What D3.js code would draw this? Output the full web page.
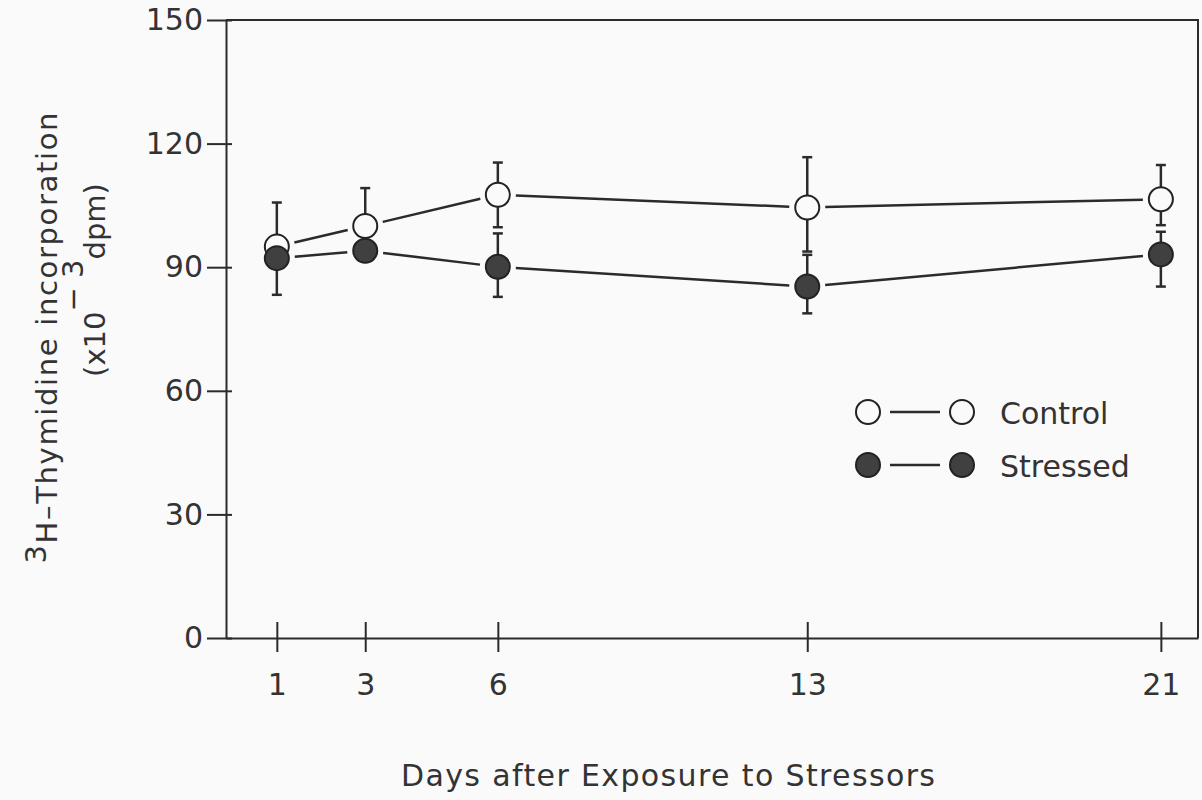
<!DOCTYPE html>
<html>
<head>
<meta charset="utf-8">
<script src="https://cdn.jsdelivr.net/npm/d3@7"></script>
<style>
  html, body { margin: 0; padding: 0; background: #fafafa; }
  svg { display: block; }
  text { font-family: "DejaVu Sans", sans-serif; fill: #333; }
</style>
</head>
<body>
<svg id="chart" width="1202" height="800"></svg>
<script>
// ---- data ----
const days = [1, 3, 6, 13, 21];
const controlMean = [95.0, 100.0, 107.6, 104.5, 106.5];
const controlErrUp = [10.7, 9.2, 7.8, 12.2, 8.3];
const controlErrDown = [null, null, 7.9, 10.7, 6.3];   // null: hidden behind the other marker
const stressedMean = [92.2, 94.0, 90.1, 85.3, 93.1];
const stressedErrUp = [null, null, 8.1, 7.7, 5.5];
const stressedErrDown = [8.9, null, 7.3, 6.5, 7.8];
const yTicks = [0, 30, 60, 90, 120, 150];
const seriesNames = ["Control", "Stressed"];
const xTitle = "Days after Exposure to Stressors";

// ---- layout ----
const svg = d3.select("#chart");
const plotL = 226, plotR = 1198, plotT = 20, plotB = 638;
const ink = "#2b2b2b";
const x = d3.scaleLinear().domain([-0.15, 21.84]).range([plotL, plotR]);
const y = d3.scaleLinear().domain([0, 150]).range([plotB, plotT]);
const R = 13;

// frame (top & right)
svg.append("path")
  .attr("d", `M${plotL},${plotT} H${plotR} V${plotB}`)
  .attr("fill", "none").attr("stroke", ink).attr("stroke-width", 2);

// y axis
const gy = svg.append("g").attr("transform", `translate(${plotL},0)`)
  .call(d3.axisLeft(y).tickValues(yTicks).tickSize(0).tickPadding(23));
gy.select(".domain").attr("stroke", ink).attr("stroke-width", 2);
gy.selectAll(".tick line").attr("x1", -19).attr("x2", 6).attr("stroke", ink).attr("stroke-width", 2);
gy.selectAll(".tick text").style("font-size", "30px").attr("fill", "#333")
  .attr("font-family", "DejaVu Sans");

// x axis
const gx = svg.append("g").attr("transform", `translate(0,${plotB})`)
  .call(d3.axisBottom(x).tickValues(days).tickSize(0).tickPadding(36));
gx.select(".domain").attr("stroke", ink).attr("stroke-width", 2);
gx.selectAll(".tick line").attr("y1", -16).attr("y2", 14).attr("stroke", ink).attr("stroke-width", 2);
gx.selectAll(".tick text").style("font-size", "30px").attr("fill", "#333")
  .attr("font-family", "DejaVu Sans");

// x title
svg.append("text").attr("x", 668).attr("y", 786).attr("text-anchor", "middle")
  .style("font-size", "30px").attr("textLength", 534).attr("lengthAdjust", "spacing")
  .text(xTitle);

// y title (two rotated lines)
const yt1 = svg.append("text").attr("transform", "translate(57,338) rotate(-90)")
  .attr("text-anchor", "middle").style("font-size", "29px")
  .attr("textLength", 451).attr("lengthAdjust", "spacing");
yt1.append("tspan").attr("baseline-shift", "11").text("3");
yt1.append("tspan").attr("baseline-shift", "0").text("H\u2013Thymidine incorporation");
const yt2 = svg.append("text").attr("transform", "translate(105,280) rotate(-90)")
  .attr("text-anchor", "middle").style("font-size", "29px");
yt2.append("tspan").text("(x10");
yt2.append("tspan").attr("baseline-shift", "22").text("\u2212 3");
yt2.append("tspan").attr("baseline-shift", "0").text("dpm)");

// series data
const series = [
  { name: seriesNames[0], mean: controlMean, up: controlErrUp, down: controlErrDown, fill: "#fafafa" },
  { name: seriesNames[1], mean: stressedMean, up: stressedErrUp, down: stressedErrDown, fill: "#404040" }
];

// connecting lines with small gaps near markers
const gap = R + 5;
series.forEach(s => {
  for (let i = 0; i < days.length - 1; i++) {
    const x1 = x(days[i]), y1 = y(s.mean[i]);
    const x2 = x(days[i + 1]), y2 = y(s.mean[i + 1]);
    const L = Math.hypot(x2 - x1, y2 - y1);
    const ux = (x2 - x1) / L, uy = (y2 - y1) / L;
    svg.append("line")
      .attr("x1", x1 + ux * gap).attr("y1", y1 + uy * gap)
      .attr("x2", x2 - ux * gap).attr("y2", y2 - uy * gap)
      .attr("stroke", ink).attr("stroke-width", 2.5);
  }
});

// error bars (one half each direction, drawn from marker edge)
series.forEach(s => {
  days.forEach((d, i) => {
    const cx = x(d), cy = y(s.mean[i]);
    [[s.up[i], 1], [s.down[i], -1]].forEach(([e, dir]) => {
      if (e == null) return;
      const ye = y(s.mean[i] + dir * e);
      svg.append("line").attr("x1", cx).attr("x2", cx).attr("y1", cy).attr("y2", ye)
        .attr("stroke", ink).attr("stroke-width", 2.5);
      svg.append("line").attr("x1", cx - 5).attr("x2", cx + 5).attr("y1", ye).attr("y2", ye)
        .attr("stroke", ink).attr("stroke-width", 2.5);
    });
  });
});

// markers (control first, stressed on top)
series.forEach(s => {
  svg.selectAll(null).data(days).enter().append("circle")
    .attr("cx", d => x(d)).attr("cy", (d, i) => y(s.mean[i])).attr("r", R - 1)
    .attr("fill", s.fill).attr("stroke", "#222").attr("stroke-width", 2);
});

// legend
const legendY = [412, 465];
series.forEach((s, k) => {
  const ly = legendY[k];
  const g = svg.append("g");
  g.append("line").attr("x1", 890).attr("x2", 940).attr("y1", ly).attr("y2", ly)
    .attr("stroke", ink).attr("stroke-width", 2.5);
  [868, 962].forEach(cx => g.append("circle").attr("cx", cx).attr("cy", ly).attr("r", R - 1)
    .attr("fill", s.fill).attr("stroke", "#222").attr("stroke-width", 2));
  g.append("text").attr("x", 1000).attr("y", ly + 12).style("font-size", "30px").text(s.name);
});
</script>
</body>
</html>
